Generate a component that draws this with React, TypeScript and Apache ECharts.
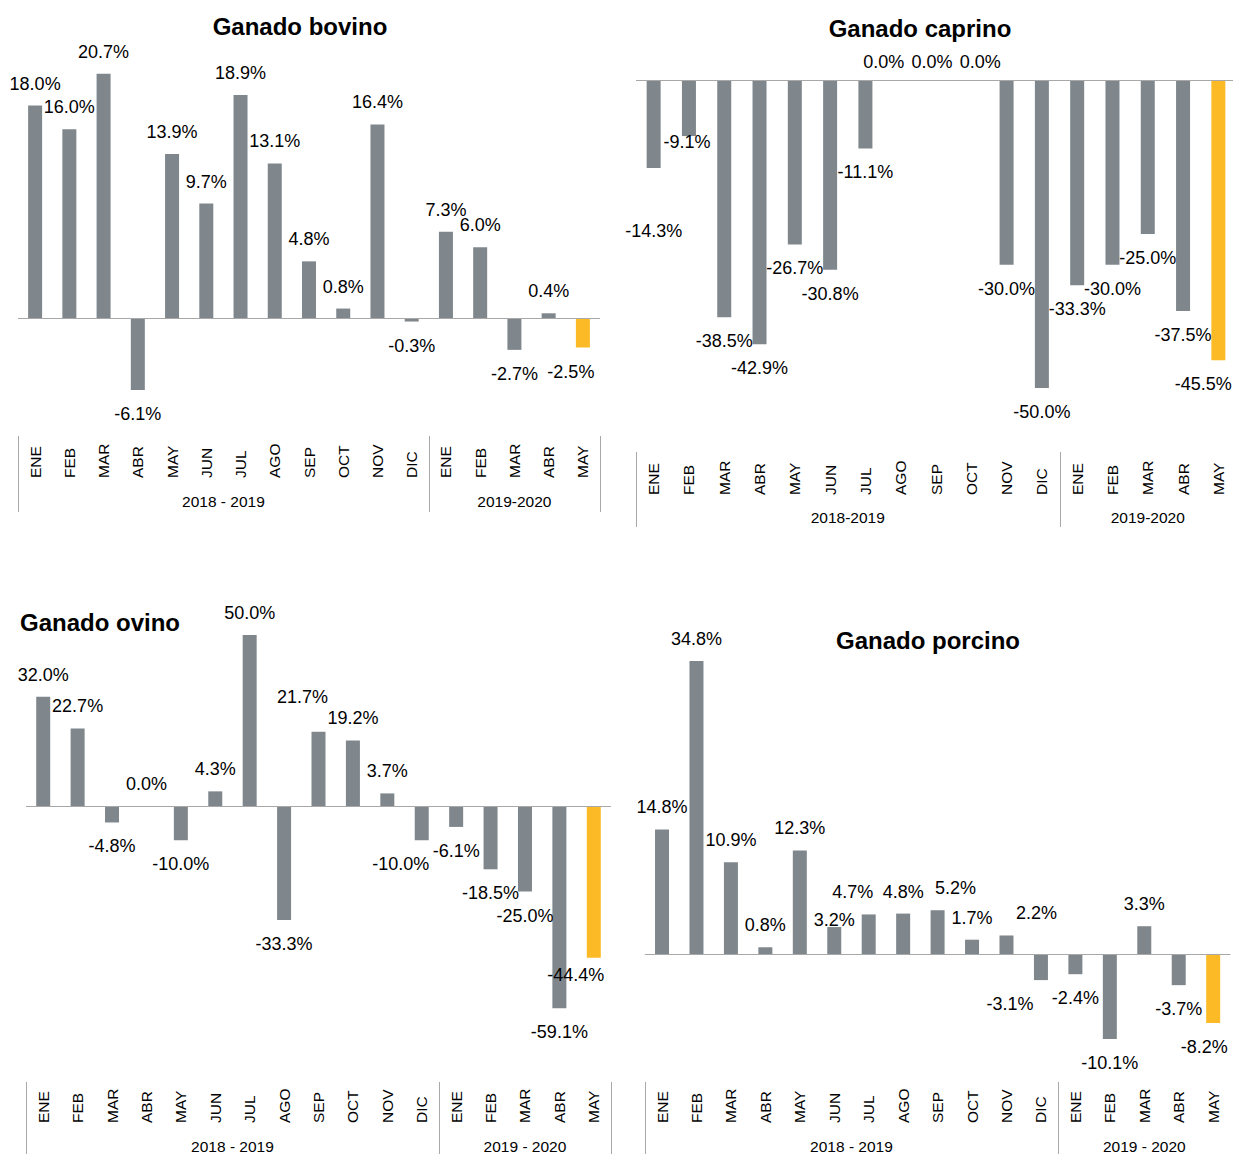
import React, { useEffect, useRef } from "react";
import * as echarts from "echarts";

// ---- data ----
const months = ["ENE", "FEB", "MAR", "ABR", "MAY", "JUN", "JUL", "AGO", "SEP", "OCT", "NOV", "DIC", "ENE", "FEB", "MAR", "ABR", "MAY"];
const bovino = [18.0, 16.0, 20.7, -6.1, 13.9, 9.7, 18.9, 13.1, 4.8, 0.8, 16.4, -0.3, 7.3, 6.0, -2.7, 0.4, -2.5];
const caprino = [-14.3, -9.1, -38.5, -42.9, -26.7, -30.8, -11.1, 0.0, 0.0, 0.0, -30.0, -50.0, -33.3, -30.0, -25.0, -37.5, -45.5];
const ovino = [32.0, 22.7, -4.8, 0.0, -10.0, 4.3, 50.0, -33.3, 21.7, 19.2, 3.7, -10.0, -6.1, -18.5, -25.0, -59.1, -44.4];
const porcino = [14.8, 34.8, 10.9, 0.8, 12.3, 3.2, 4.7, 4.8, 5.2, 1.7, 2.2, -3.1, -2.4, -10.1, 3.3, -3.7, -8.2];
const titles = ["Ganado bovino", "Ganado caprino", "Ganado ovino", "Ganado porcino"];
const groupLabels: [string, string][] = [
  ["2018 - 2019", "2019-2020"],
  ["2018-2019", "2019-2020"],
  ["2018 - 2019", "2019 - 2020"],
  ["2018 - 2019", "2019 - 2020"],
];
const firstPeriodCount = 12;

// ---- layout / style ----
const FONT = "'Liberation Sans', Arial, Helvetica, sans-serif";
const NARROW = "'Liberation Sans Narrow', 'Arial Narrow', 'Liberation Sans', Arial, sans-serif";
const GRAY = "#7f878c";
const YELLOW = "#fbba26";
const LINE = "#a8a8a8";

type Panel = {
  values: number[];
  title: string;
  groups: [string, string];
  left: number;
  width: number;
  top: number;
  height: number;
  min: number;
  max: number;
  titleX: number;
  titleY: number;
  titleAlign: "left" | "center";
  labelY: number;
  lineTop: number;
  lineBottom: number;
  groupY: number;
  rightLine: boolean;
  shifts: Record<number, [number, number]>;
};

const panels: Panel[] = [
  {
    values: bovino, title: titles[0], groups: groupLabels[0],
    left: 18, width: 582, top: 23, height: 413, min: -10, max: 25,
    titleX: 300, titleY: 26, titleAlign: "center",
    labelY: 478, lineTop: 436, lineBottom: 512, groupY: 501, rightLine: true,
    shifts: { 16: [-12, 0] },
  },
  {
    values: caprino, title: titles[1], groups: groupLabels[1],
    left: 636, width: 600, top: 18.4, height: 431.2, min: -60, max: 10,
    titleX: 920, titleY: 28, titleAlign: "center",
    labelY: 495, lineTop: 452, lineBottom: 527, groupY: 517, rightLine: false,
    shifts: { 0: [0, 39], 1: [-2, -18], 7: [-17, 4], 8: [-4, 4], 9: [9, 4], 16: [-15, 0] },
  },
  {
    values: ovino, title: titles[2], groups: groupLabels[2],
    left: 26, width: 585, top: 618, height: 461.6, min: -80, max: 55,
    titleX: 20, titleY: 622, titleAlign: "left",
    labelY: 1123, lineTop: 1082, lineBottom: 1154, groupY: 1146, rightLine: true,
    shifts: { 8: [-16, -13], 11: [-21, 0], 16: [-18, -7] },
  },
  {
    values: porcino, title: titles[3], groups: groupLabels[3],
    left: 644.8, width: 585.6, top: 617.2, height: 463.1, min: -15, max: 40,
    titleX: 928, titleY: 640, titleAlign: "center",
    labelY: 1123, lineTop: 1082, lineBottom: 1154, groupY: 1146, rightLine: false,
    shifts: { 5: [0, 15], 6: [-16, 0], 8: [18, 0], 10: [30, 0], 11: [-31, 0], 16: [-9, 0] },
  },
];

function buildOption() {
  const grid: any[] = [];
  const xAxis: any[] = [];
  const yAxis: any[] = [];
  const series: any[] = [];
  const graphic: any[] = [];

  panels.forEach((p, i) => {
    const n = months.length;
    const band = p.width / n;
    grid.push({ left: p.left, top: p.top, width: p.width, height: p.height, containLabel: false, outerBoundsMode: "none" });
    xAxis.push({
      type: "category",
      gridIndex: i,
      data: months,
      axisLine: { show: false },
      axisTick: { show: false },
      splitLine: { show: false },
      axisLabel: {
        interval: 0,
        rotate: 90,
        align: "left",
        verticalAlign: "middle",
        margin: p.labelY - (p.top + p.height),
        fontSize: 15.5,
        color: "#000",
        fontFamily: NARROW,
      },
    });
    yAxis.push({
      type: "value",
      gridIndex: i,
      min: p.min,
      max: p.max,
      show: false,
      splitLine: { show: false },
    });
    series.push({
      type: "bar",
      xAxisIndex: i,
      yAxisIndex: i,
      barWidth: 14,
      silent: true,
      data: p.values.map((v, k) => ({
        value: v,
        itemStyle: { color: k === n - 1 ? YELLOW : GRAY },
        label: {
          show: true,
          position: v < 0 ? "bottom" : "top",
          distance: v < 0 ? 15 : 13,
          offset: p.shifts[k] || [0, 0],
        },
      })),
      label: {
        show: true,
        fontSize: 18,
        color: "#000",
        fontFamily: FONT,
        formatter: (d: any) => `${Number(d.value).toFixed(1)}%`,
      },
      markLine: {
        silent: true,
        symbol: ["none", "none"],
        label: { show: false },
        lineStyle: { color: LINE, width: 1, type: "solid" },
        emphasis: { disabled: true },
        data: [{ yAxis: 0 }],
      },
    });

    // title
    graphic.push({
      type: "text",
      x: p.titleX,
      y: p.titleY,
      style: {
        text: p.title,
        font: `bold 24px ${FONT}`,
        fill: "#000",
        align: p.titleAlign,
        verticalAlign: "middle",
      },
    });

    // period separators
    const xs = [p.left, p.left + band * firstPeriodCount];
    if (p.rightLine) xs.push(p.left + p.width);
    xs.forEach((x) => {
      const px = Math.round(x) + 0.5;
      graphic.push({
        type: "line",
        shape: { x1: px, y1: p.lineTop, x2: px, y2: p.lineBottom },
        style: { stroke: LINE, lineWidth: 1 },
      });
    });

    // period labels
    const c1 = p.left + (band * firstPeriodCount) / 2;
    const c2 = p.left + band * firstPeriodCount + (band * (n - firstPeriodCount)) / 2;
    [c1, c2].forEach((cx, gi) => {
      graphic.push({
        type: "text",
        x: cx,
        y: p.groupY,
        style: {
          text: p.groups[gi],
          font: `15.5px ${FONT}`,
          fill: "#000",
          align: "center",
          verticalAlign: "middle",
        },
      });
    });
  });

  return {
    animation: false,
    backgroundColor: "#ffffff",
    textStyle: { fontFamily: FONT },
    grid,
    xAxis,
    yAxis,
    series,
    graphic,
  };
}

export default function App() {
  const ref = useRef<HTMLDivElement | null>(null);
  useEffect(() => {
    if (!ref.current) return;
    const chart = echarts.init(ref.current, undefined, { renderer: "svg" });
    chart.setOption(buildOption() as any);
    return () => chart.dispose();
  }, []);
  return (
    <div
      ref={ref}
      style={{ position: "absolute", left: 0, top: 0, width: 1233, height: 1154, background: "#fff" }}
    />
  );
}
